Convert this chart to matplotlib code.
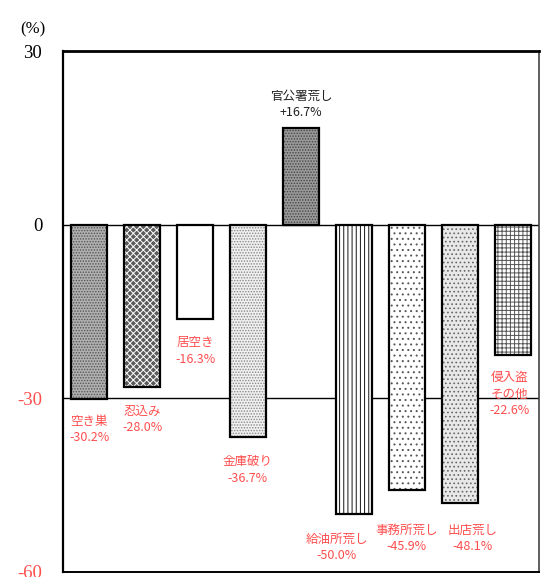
import matplotlib
matplotlib.use("Agg")
import matplotlib.pyplot as plt

categories = ["空き巣", "忍込み", "居空き", "金庫破り", "官公署荒し",
              "給油所荒し", "事務所荒し", "出店荒し", "侵入盗\nその他"]
values = [-30.2, -28.0, -16.3, -36.7, 16.7, -50.0, -45.9, -48.1, -22.6]
value_labels = ["-30.2%", "-28.0%", "-16.3%", "-36.7%", "+16.7%",
                "-50.0%", "-45.9%", "-48.1%", "-22.6%"]
yticks = [30, 0, -30, -60]
ytick_labels = ["30", "0", "-30", "-60"]

# styling per bar: (facecolor, hatch, hatch colour)
styles = [
    ("#b0b0b0", "......", "#555555"),
    ("#5a5a5a", "xxxxx", "#ffffff"),
    ("white", "", "black"),
    ("#f0f0f0", "......", "#888888"),
    ("#9a9a9a", "......", "#444444"),
    ("white", "||||", "#111111"),
    ("white", "...", "#555555"),
    ("#e8e8e8", "....", "#666666"),
    ("white", "++++", "#555555"),
]

RED = "#ff4d4d"
plt.rcParams["hatch.linewidth"] = 0.7

fig = plt.figure(figsize=(5.42, 5.77), dpi=100)
ax = fig.add_axes([63 / 542, 1 - 572 / 577, (539 - 63) / 542, (572 - 51) / 577])

for i, v in enumerate(values):
    fc, h, hc = styles[i]
    ax.bar(i, v, width=0.68, color=fc, hatch=h, edgecolor=hc, linewidth=0, zorder=2)
    ax.bar(i, v, width=0.68, fill=False, edgecolor="black", linewidth=1.6, zorder=3)

ax.axhline(0, color="black", linewidth=1.0, zorder=1)
ax.axhline(-30, color="black", linewidth=1.0, zorder=1)

ax.set_xlim(-0.5, len(values) - 0.5)
ax.set_ylim(-60, 30)
ax.set_xticks([])
ax.set_yticks(yticks)
ax.set_yticklabels(ytick_labels, family=["Liberation Serif"], fontsize=13.5)
for lab, t in zip(ax.get_yticklabels(), yticks):
    lab.set_color(RED if t < 0 else "black")
ax.tick_params(axis="y", length=0, pad=15)

ax.spines["top"].set_linewidth(2.0)
ax.spines["left"].set_linewidth(1.6)
ax.spines["bottom"].set_linewidth(1.4)
ax.spines["right"].set_linewidth(1.2)
ax.spines["right"].set_color("#444444")

fig.text(33 / 542, 1 - 29 / 577, "(%)", family=["Liberation Serif"], fontsize=12,
         ha="center", va="center")

# label positions (data coords: x offset, y of first line)
label_pos = [
    (0.0, -32.8), (0.0, -31.1), (0.0, -19.3), (-0.02, -39.8), (0.0, 23.3),
    (-0.33, -53.2), (0.0, -51.7), (0.25, -51.7), (-0.05, -25.3),
]
fp = dict(family=["Noto Sans CJK JP", "DejaVu Sans"], fontsize=9)
for i, (v, cat, vl) in enumerate(zip(values, categories, value_labels)):
    dx, y0 = label_pos[i]
    col = RED if v < 0 else "#222222"
    txt = cat + "\n" + vl
    ax.text(i + dx, y0, txt, ha="center", va="top", color=col,
            linespacing=1.35, **fp)

fig.savefig("out.png", dpi=100)
